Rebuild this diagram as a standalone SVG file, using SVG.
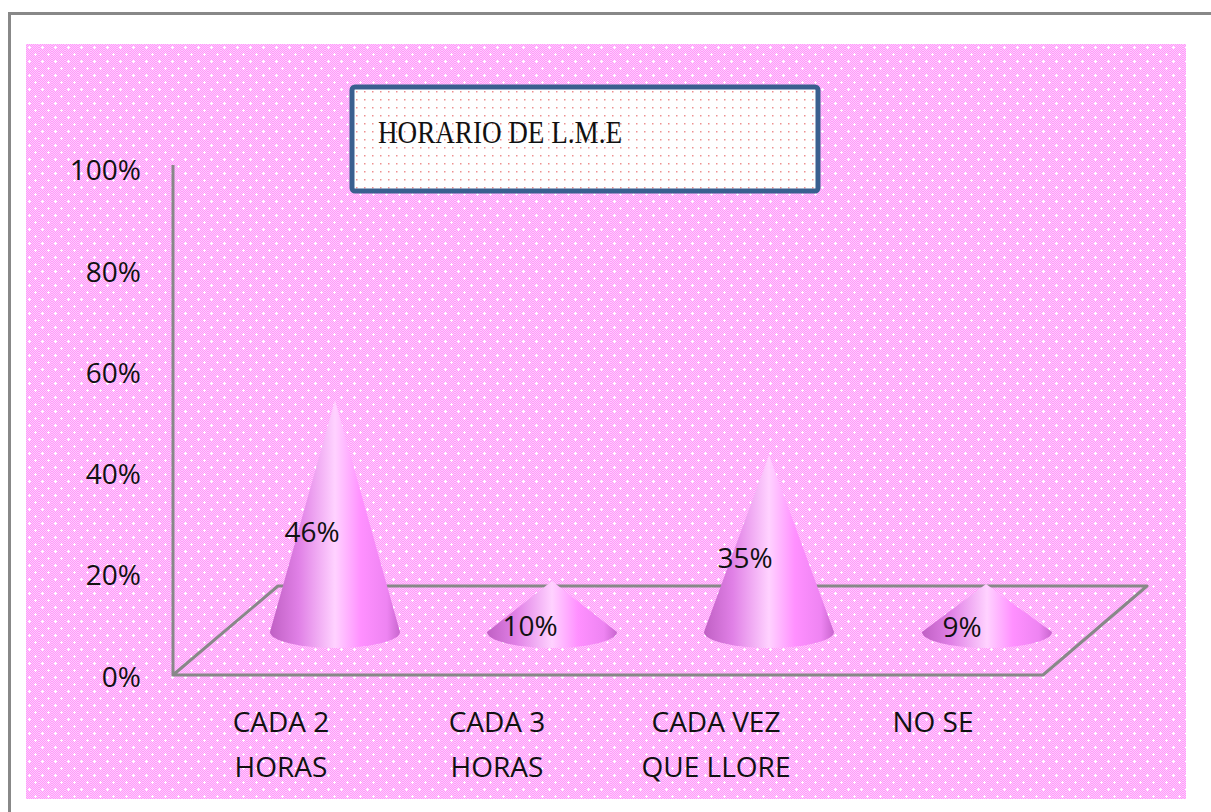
<svg xmlns="http://www.w3.org/2000/svg" width="1211" height="812" viewBox="0 0 1211 812">
<defs>
<pattern id="pinkdots" x="26" y="44" width="13" height="14" patternUnits="userSpaceOnUse">
<rect width="13" height="14" fill="#ff9cf8"/>
<path d="M0 0h1v1h-1zM2 0h1v1h-1zM4 0h1v1h-1zM6 0h1v1h-1zM8 0h1v1h-1zM10 0h1v1h-1zM12 0h1v1h-1zM1 1h1v1h-1zM3 1h1v1h-1zM5 1h1v1h-1zM7 1h1v1h-1zM9 1h1v1h-1zM11 1h1v1h-1zM0 2h1v1h-1zM2 2h1v1h-1zM4 2h1v1h-1zM6 2h1v1h-1zM8 2h1v1h-1zM10 2h1v1h-1zM12 2h1v1h-1zM1 3h1v1h-1zM3 3h1v1h-1zM5 3h1v1h-1zM7 3h1v1h-1zM9 3h1v1h-1zM11 3h1v1h-1zM0 4h1v1h-1zM2 4h1v1h-1zM4 4h1v1h-1zM6 4h1v1h-1zM8 4h1v1h-1zM10 4h1v1h-1zM12 4h1v1h-1zM1 5h1v1h-1zM3 5h1v1h-1zM5 5h1v1h-1zM7 5h1v1h-1zM9 5h1v1h-1zM11 5h1v1h-1zM0 6h1v1h-1zM2 6h1v1h-1zM4 6h1v1h-1zM6 6h1v1h-1zM8 6h1v1h-1zM10 6h1v1h-1zM12 6h1v1h-1zM1 7h1v1h-1zM3 7h1v1h-1zM5 7h1v1h-1zM7 7h1v1h-1zM9 7h1v1h-1zM11 7h1v1h-1zM0 8h1v1h-1zM2 8h1v1h-1zM4 8h1v1h-1zM6 8h1v1h-1zM8 8h1v1h-1zM10 8h1v1h-1zM12 8h1v1h-1zM1 9h1v1h-1zM3 9h1v1h-1zM5 9h1v1h-1zM7 9h1v1h-1zM9 9h1v1h-1zM11 9h1v1h-1zM0 10h1v1h-1zM2 10h1v1h-1zM4 10h1v1h-1zM6 10h1v1h-1zM8 10h1v1h-1zM10 10h1v1h-1zM12 10h1v1h-1zM1 11h1v1h-1zM3 11h1v1h-1zM5 11h1v1h-1zM7 11h1v1h-1zM9 11h1v1h-1zM11 11h1v1h-1zM0 12h1v1h-1zM2 12h1v1h-1zM4 12h1v1h-1zM6 12h1v1h-1zM8 12h1v1h-1zM10 12h1v1h-1zM12 12h1v1h-1zM1 13h1v1h-1zM3 13h1v1h-1zM5 13h1v1h-1zM7 13h1v1h-1zM9 13h1v1h-1zM11 13h1v1h-1z" fill="#ffc8ff"/>
<path d="M3 2h1v3h-1zM2 3h3v1h-3zM9 9h1v3h-1zM8 10h3v1h-3z" fill="#ffffff"/>
</pattern>
<pattern id="whitedots" x="353" y="88" width="8" height="8" patternUnits="userSpaceOnUse">
<rect width="8" height="8" fill="#ffffff"/>
<rect x="3" y="3" width="1.5" height="1.5" fill="#ee9090"/>
</pattern>
<linearGradient id="coneGrad" x1="0" y1="0" x2="1" y2="0">
<stop offset="0" stop-color="#c060c4"/>
<stop offset="0.22" stop-color="#e080e6"/>
<stop offset="0.5" stop-color="#ffd2ff"/>
<stop offset="0.7" stop-color="#ff90ff"/>
<stop offset="0.9" stop-color="#ee84f2"/>
<stop offset="1" stop-color="#c866ce"/>
</linearGradient>
<style>
.axis{fill:none;stroke:#888888;stroke-width:3;stroke-linejoin:round}
.ylbl{font-family:"Open Sans","Liberation Sans",sans-serif;font-size:28px;fill:#111111;text-anchor:end}
.cat{font-family:"Open Sans","Liberation Sans",sans-serif;font-size:28px;fill:#111111;text-anchor:middle}
.cone{fill:url(#coneGrad)}
</style>
</defs>
<rect x="9.5" y="13.5" width="1300" height="900" fill="#ffffff" stroke="#888888" stroke-width="3"/>
<rect x="26" y="44" width="1160" height="755" fill="url(#pinkdots)"/>

<g id="axes" class="connectors">
<path class="axis" d="M173 165 V675 H1043 L1147 586 H278 L173 675"/>
</g>

<g id="y-labels">
<text class="ylbl" x="141" y="180">100%</text>
<text class="ylbl" x="141" y="282">80%</text>
<text class="ylbl" x="141" y="383">60%</text>
<text class="ylbl" x="141" y="484">40%</text>
<text class="ylbl" x="141" y="585">20%</text>
<text class="ylbl" x="141" y="687">0%</text>
</g>

<g id="cone-cada2">
<path class="cone" d="M335 400 L270 632 A65 16 0 0 0 400 632 Z"/>
<text class="cat" x="312" y="542">46%</text>
</g>
<g id="cone-cada3">
<path class="cone" d="M552 581 L487 632 A65 16 0 0 0 617 632 Z"/>
<text class="cat" x="530" y="636">10%</text>
</g>
<g id="cone-cadavez">
<path class="cone" d="M769 455 L704 632 A65 16 0 0 0 834 632 Z"/>
<text class="cat" x="745" y="568">35%</text>
</g>
<g id="cone-nose">
<path class="cone" d="M986 584 L922 632 A65 16 0 0 0 1052 632 Z"/>
<text class="cat" x="962" y="637">9%</text>
</g>

<g id="x-labels">
<text class="cat" x="281" y="732">CADA 2</text>
<text class="cat" x="281" y="777">HORAS</text>
<text class="cat" x="497" y="732">CADA 3</text>
<text class="cat" x="497" y="777">HORAS</text>
<text class="cat" x="716" y="732">CADA VEZ</text>
<text class="cat" x="716" y="777">QUE LLORE</text>
<text class="cat" x="933" y="732">NO SE</text>
</g>

<g id="title">
<rect x="352" y="87" width="466" height="104" rx="3" fill="url(#whitedots)" stroke="#3a5f8f" stroke-width="5"/>
<text x="378" y="143" font-family="'Liberation Serif','DejaVu Serif',serif" font-size="32" textLength="244" lengthAdjust="spacingAndGlyphs" fill="#111111">HORARIO DE L.M.E</text>
</g>
</svg>
